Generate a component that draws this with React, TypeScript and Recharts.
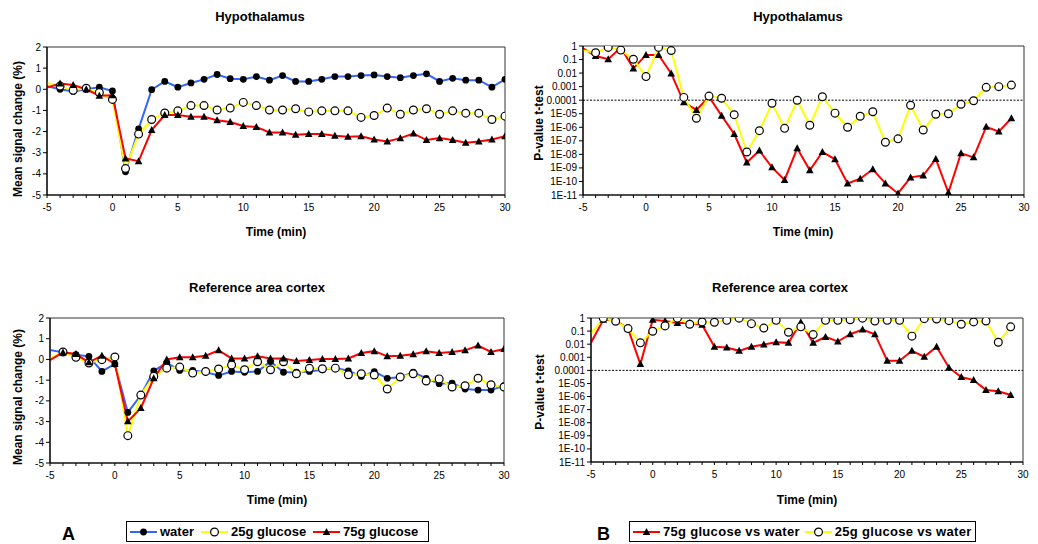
import React from "react";
import { LineChart, Line, XAxis, YAxis, ReferenceLine, ReferenceArea, Label } from "recharts";

// time points (min)
const timeA = [-5, -4, -3, -2, -1, 0, 1, 2, 3, 4, 5, 6, 7, 8, 9, 10, 11, 12, 13, 14, 15, 16, 17, 18, 19, 20, 21, 22, 23, 24, 25, 26, 27, 28, 29, 30];
const timeB = [-5, -4, -3, -2, -1, 0, 1, 2, 3, 4, 5, 6, 7, 8, 9, 10, 11, 12, 13, 14, 15, 16, 17, 18, 19, 20, 21, 22, 23, 24, 25, 26, 27, 28, 29];

// mean signal change (%), hypothalamus
const hypoWater = [0.15, 0.0, -0.1, 0.0, 0.1, -0.08, -3.9, -1.87, -0.02, 0.37, 0.1, 0.3, 0.47, 0.7, 0.5, 0.47, 0.6, 0.43, 0.65, 0.37, 0.37, 0.47, 0.6, 0.6, 0.65, 0.68, 0.6, 0.55, 0.65, 0.73, 0.37, 0.52, 0.43, 0.43, 0.1, 0.47];
const hypo25 = [0.3, 0.15, -0.05, 0.05, -0.15, -0.48, -3.75, -2.12, -1.43, -1.12, -1.02, -0.77, -0.77, -0.98, -0.89, -0.62, -0.77, -0.98, -0.98, -0.92, -1.07, -1.02, -1.02, -1.02, -1.33, -1.24, -0.89, -1.18, -0.98, -0.92, -1.18, -1.02, -1.13, -1.13, -1.43, -1.27];
const hypo75 = [0.08, 0.27, 0.2, 0.0, -0.3, -0.28, -3.27, -3.4, -1.93, -1.22, -1.22, -1.3, -1.3, -1.46, -1.55, -1.74, -1.78, -2.04, -2.04, -2.15, -2.12, -2.12, -2.2, -2.25, -2.22, -2.37, -2.47, -2.31, -2.09, -2.4, -2.31, -2.4, -2.53, -2.47, -2.37, -2.22];

// mean signal change (%), reference area cortex
const cortexWater = [0.45, 0.34, 0.23, 0.15, -0.58, -0.22, -2.56, -1.73, -0.55, -0.17, -0.53, -0.53, -0.62, -0.77, -0.58, -0.62, -0.58, -0.1, -0.62, -0.62, -0.58, -0.5, -0.42, -0.55, -0.82, -0.59, -0.91, -0.86, -0.62, -0.91, -1.17, -1.14, -1.43, -1.48, -1.48, -1.27];
const cortex25 = [0.07, 0.36, 0.1, -0.17, -0.01, 0.12, -3.68, -1.72, -0.82, -0.42, -0.37, -0.66, -0.58, -0.46, -0.27, -0.5, -0.11, -0.5, -0.11, -0.69, -0.43, -0.45, -0.42, -0.74, -0.69, -0.75, -1.43, -0.85, -0.69, -1.04, -0.94, -1.33, -1.27, -0.91, -1.22, -1.33];
const cortex75 = [-0.04, 0.34, 0.26, -0.14, 0.18, -0.22, -2.99, -2.35, -0.91, 0.0, 0.1, 0.1, 0.18, 0.44, 0.05, 0.05, 0.15, 0.05, 0.05, -0.08, -0.03, 0.02, 0.02, 0.05, 0.31, 0.4, 0.15, 0.18, 0.25, 0.39, 0.31, 0.36, 0.44, 0.67, 0.36, 0.5];

// p-values t-test
const hypoP75 = [0.68, 0.18, 0.105, 0.76, 0.022, 0.22, 0.22, 0.0095, 6.9e-5, 1.9e-5, 1.8e-4, 7.2e-6, 3.2e-7, 2.5e-9, 1.9e-8, 1.1e-9, 1.3e-10, 2.8e-8, 6.6e-10, 1.5e-8, 4.3e-9, 7.2e-11, 1.6e-10, 7.9e-10, 7.2e-11, 1.3e-11, 2.0e-10, 2.7e-10, 4.6e-9, 1.5e-11, 1.2e-8, 6.0e-9, 1.1e-6, 4.8e-7, 4.6e-6];
const hypoP25 = [0.46, 0.32, 0.79, 0.5, 0.105, 0.0055, 0.79, 0.46, 1.6e-4, 4.6e-6, 2.0e-4, 1.4e-4, 8.5e-6, 1.5e-8, 5.6e-7, 5.9e-5, 8.3e-7, 9.8e-5, 1.4e-6, 1.8e-4, 1.1e-5, 1.0e-6, 6.5e-6, 1.4e-5, 7.8e-8, 1.4e-7, 4.2e-5, 6.3e-7, 9.1e-6, 1.0e-5, 5.0e-5, 9.1e-5, 8.9e-4, 1.0e-3, 1.3e-3];
const cortexP75 = [0.013, 0.74, 0.66, 0.155, 3.0e-4, 0.74, 0.59, 0.42, 0.42, 0.31, 0.0063, 0.0055, 0.0031, 0.0063, 0.0093, 0.014, 0.0126, 0.47, 0.0126, 0.036, 0.016, 0.058, 0.13, 0.058, 5.4e-4, 5.4e-4, 0.0031, 0.0011, 0.0063, 1.6e-4, 3.1e-5, 1.8e-5, 3.2e-6, 2.5e-6, 1.3e-6];
const cortexP25 = [0.065, 0.97, 0.56, 0.155, 0.0126, 0.098, 0.25, 0.97, 0.33, 0.5, 0.47, 0.66, 0.97, 0.37, 0.17, 0.66, 0.081, 0.21, 0.054, 0.66, 0.66, 0.74, 0.97, 0.59, 0.66, 0.66, 0.041, 0.89, 0.83, 0.63, 0.33, 0.5, 0.59, 0.014, 0.21];

const xTicks = [-5, -4, -3, -2, -1, 0, 1, 2, 3, 4, 5, 6, 7, 8, 9, 10, 11, 12, 13, 14, 15, 16, 17, 18, 19, 20, 21, 22, 23, 24, 25, 26, 27, 28, 29, 30];
const signalTicks = [-5, -4, -3, -2, -1, 0, 1, 2];
const pTicks = [1e-11, 1e-10, 1e-9, 1e-8, 1e-7, 1e-6, 1e-5, 1e-4, 1e-3, 1e-2, 1e-1, 1];
const pLabels = ["1E-11", "1E-10", "1E-09", "1E-08", "1E-07", "1E-06", "1E-05", "0.0001", "0.001", "0.01", "0.1", "1"];

const FONT = "'Liberation Sans', Arial, sans-serif";
const BLUE = "#3366ff";
const YELLOW = "#ffff00";
const RED = "#ff0000";

const hypoData = timeA.map((t, i) => ({ t, water: hypoWater[i], g25: hypo25[i], g75: hypo75[i] }));
const cortexData = timeA.map((t, i) => ({ t, water: cortexWater[i], g25: cortex25[i], g75: cortex75[i] }));
const hypoPData = timeB.map((t, i) => ({ t, p75: hypoP75[i], p25: hypoP25[i] }));
const cortexPData = timeB.map((t, i) => ({ t, p75: cortexP75[i], p25: cortexP25[i] }));

function FilledDot({ cx, cy }: any) {
  if (cx == null || cy == null) return null;
  return <circle cx={cx} cy={cy} r={3.4} fill="#000" />;
}
function OpenDot({ cx, cy }: any) {
  if (cx == null || cy == null) return null;
  return <circle cx={cx} cy={cy} r={3.9} fill="#fff" stroke="#000" strokeWidth={1.2} />;
}
function TriDot({ cx, cy }: any) {
  if (cx == null || cy == null) return null;
  return <polygon points={`${cx},${cy - 4} ${cx + 3.8},${cy + 3} ${cx - 3.8},${cy + 3}`} fill="#000" />;
}

const markers: any = { filled: FilledDot, open: OpenDot, tri: TriDot };

type Series = { key: string; color: string; marker: string };

type PanelProps = {
  left: number;
  top: number;
  width: number;
  height: number;
  plotTop: number;
  yAxisW: number;
  rightM: number;
  xAxisH: number;
  data: any[];
  series: Series[];
  log?: boolean;
  yLabel: string;
  yLabelX: number;
  yLabelY: number;
  xLabelX: number;
  xLabelY: number;
};

function Panel(p: PanelProps) {
  const tickStyle = { fontSize: 10, fill: "#000", fontFamily: FONT };
  const yMin = p.log ? 1e-11 : -5;
  const yMax = p.log ? 1 : 2;
  const yTitle = () => (
    <text
      x={p.yLabelX}
      y={p.yLabelY}
      transform={`rotate(-90, ${p.yLabelX}, ${p.yLabelY})`}
      textAnchor="middle"
      dominantBaseline="central"
      fontFamily={FONT}
      fontWeight="bold"
      fontSize={12}
      fill="#000"
    >
      {p.yLabel}
    </text>
  );
  return (
    <div style={{ position: "absolute", left: p.left, top: p.top, width: p.width, height: p.height }}>
      <LineChart
        width={p.width}
        height={p.height}
        data={p.data}
        margin={{ top: p.plotTop, right: p.rightM, bottom: 0, left: 0 }}
      >
        <XAxis
          dataKey="t"
          type="number"
          domain={[-5, 30]}
          ticks={xTicks}
          interval={0}
          tickFormatter={(v: number) => (v % 5 === 0 ? String(v) : "")}
          tick={tickStyle}
          tickSize={3}
          tickMargin={6}
          axisLine={{ stroke: "#000", strokeWidth: 1.2 }}
          tickLine={{ stroke: "#000" }}
          height={p.xAxisH}
          allowDataOverflow
        >
          <Label
            content={() => (
              <text
                x={p.xLabelX}
                y={p.xLabelY}
                textAnchor="middle"
                dominantBaseline="central"
                fontFamily={FONT}
                fontWeight="bold"
                fontSize={12}
                fill="#000"
              >
                Time (min)
              </text>
            )}
          />
        </XAxis>
        {p.log ? (
          <YAxis
            type="number"
            scale="log"
            domain={[1e-11, 1]}
            ticks={pTicks}
            interval={0}
            allowDataOverflow
            tickFormatter={(v: number) => pLabels[Math.round(Math.log10(v)) + 11]}
            tick={tickStyle}
            tickSize={4}
            tickMargin={2}
            axisLine={{ stroke: "#000", strokeWidth: 1.2 }}
            tickLine={{ stroke: "#000" }}
            width={p.yAxisW}
          >
            <Label content={yTitle} />
          </YAxis>
        ) : (
          <YAxis
            type="number"
            domain={[-5, 2]}
            ticks={signalTicks}
            interval={0}
            allowDataOverflow
            tick={tickStyle}
            tickSize={4}
            tickMargin={2}
            axisLine={{ stroke: "#000", strokeWidth: 1.2 }}
            tickLine={{ stroke: "#000" }}
            width={p.yAxisW}
          >
            <Label content={yTitle} />
          </YAxis>
        )}
        <ReferenceArea x1={-5} x2={30} y1={yMin} y2={yMax} fill="none" stroke="#333" strokeWidth={1} ifOverflow="visible" />
        {p.log && <ReferenceLine y={1e-4} stroke="#000" strokeDasharray="2 1.5" strokeWidth={1} />}
        {p.series.map((s) => {
          const M = markers[s.marker];
          return (
            <Line
              key={s.key}
              type="linear"
              dataKey={s.key}
              stroke={s.color}
              strokeWidth={2}
              dot={(d: any) =>
                d.index === 0 ? <g key={`${s.key}-${d.index}`} /> : <M key={`${s.key}-${d.index}`} cx={d.cx} cy={d.cy} />
              }
              activeDot={false}
              isAnimationActive={false}
            />
          );
        })}
      </LineChart>
    </div>
  );
}

function LegendItem({ color, marker, label, gap }: { color: string; marker: string; label: string; gap: number }) {
  const M = markers[marker];
  return (
    <span style={{ display: "inline-flex", alignItems: "center", marginRight: gap }}>
      <svg width={27} height={12} style={{ display: "block" }}>
        <line x1={0} y1={6} x2={27} y2={6} stroke={color} strokeWidth={2} />
        <M cx={13.5} cy={6} />
      </svg>
      <span style={{ marginLeft: 3 }}>{label}</span>
    </span>
  );
}

const titleStyle: React.CSSProperties = {
  position: "absolute",
  fontFamily: FONT,
  fontWeight: "bold",
  fontSize: 13,
  transform: "translate(-50%, -50%)",
  whiteSpace: "nowrap",
};

const legendBox: React.CSSProperties = {
  position: "absolute",
  top: 521,
  height: 21,
  border: "1px solid #000",
  background: "#fff",
  fontFamily: FONT,
  fontWeight: "bold",
  fontSize: 13,
  display: "flex",
  alignItems: "center",
  paddingLeft: 3,
  boxSizing: "border-box",
  whiteSpace: "nowrap",
};

export default function App() {
  const signalSeries: Series[] = [
    { key: "water", color: BLUE, marker: "filled" },
    { key: "g25", color: YELLOW, marker: "open" },
    { key: "g75", color: RED, marker: "tri" },
  ];
  const pSeries: Series[] = [
    { key: "p75", color: RED, marker: "tri" },
    { key: "p25", color: YELLOW, marker: "open" },
  ];
  return (
    <div style={{ position: "absolute", left: 0, top: 0, width: 1038, height: 544, background: "#fff", overflow: "hidden" }}>
      <Panel left={0} top={0} width={520} height={260} plotTop={47} yAxisW={47} rightM={15} xAxisH={65}
        data={hypoData} series={signalSeries} yLabel="Mean signal change (%)" yLabelX={18} yLabelY={129} xLabelX={276} xLabelY={232} />
      <Panel left={520} top={0} width={518} height={260} plotTop={46} yAxisW={63} rightM={14} xAxisH={65}
        data={hypoPData} series={pSeries} log yLabel="P-value t-test" yLabelX={19} yLabelY={123} xLabelX={283} xLabelY={232} />
      <Panel left={0} top={272} width={520} height={256} plotTop={46} yAxisW={50} rightM={16} xAxisH={65}
        data={cortexData} series={signalSeries} yLabel="Mean signal change (%)" yLabelX={18} yLabelY={125} xLabelX={277} xLabelY={228} />
      <Panel left={520} top={272} width={518} height={256} plotTop={46} yAxisW={71} rightM={15} xAxisH={66}
        data={cortexPData} series={pSeries} log yLabel="P-value t-test" yLabelX={20} yLabelY={120} xLabelX={287} xLabelY={228} />

      <div style={{ ...titleStyle, left: 260, top: 16 }}>Hypothalamus</div>
      <div style={{ ...titleStyle, left: 798, top: 16 }}>Hypothalamus</div>
      <div style={{ ...titleStyle, left: 257, top: 287 }}>Reference area cortex</div>
      <div style={{ ...titleStyle, left: 780, top: 287 }}>Reference area cortex</div>

      <div style={{ position: "absolute", left: 62, top: 524, fontFamily: FONT, fontWeight: "bold", fontSize: 18 }}>A</div>
      <div style={{ position: "absolute", left: 597, top: 524, fontFamily: FONT, fontWeight: "bold", fontSize: 18 }}>B</div>

      <div style={{ ...legendBox, left: 126, width: 303 }}>
        <LegendItem color={BLUE} marker="filled" label="water" gap={7} />
        <LegendItem color={YELLOW} marker="open" label="25g glucose" gap={7} />
        <LegendItem color={RED} marker="tri" label="75g glucose" gap={0} />
      </div>
      <div style={{ ...legendBox, left: 629, width: 347, letterSpacing: 0.3 }}>
        <LegendItem color={RED} marker="tri" label="75g glucose vs water" gap={5} />
        <LegendItem color={YELLOW} marker="open" label="25g glucose vs water" gap={0} />
      </div>
    </div>
  );
}
